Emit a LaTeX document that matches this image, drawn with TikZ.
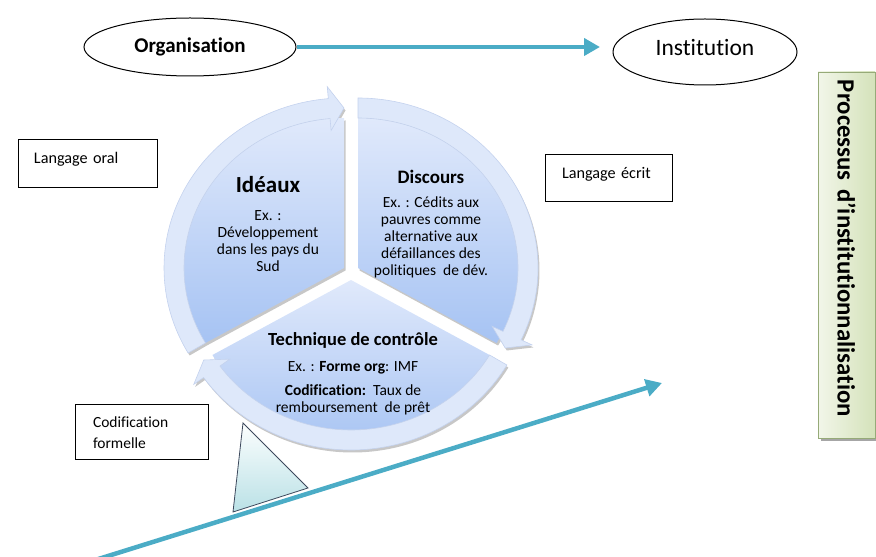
\documentclass[tikz,border=0pt]{standalone}
\usepackage{fontspec}
\setmainfont{Carlito}[Ligatures=NoCommon]
\usetikzlibrary{arrows.meta,shapes.geometric}
\definecolor{teal1}{RGB}{75,172,198}
\definecolor{wedgetop}{RGB}{224,233,251}
\definecolor{wedgebot}{RGB}{166,195,243}
\definecolor{bandcol}{RGB}{222,232,250}
\definecolor{bandedge}{RGB}{196,210,238}
\definecolor{greentop}{RGB}{242,246,233}
\definecolor{greenbot}{RGB}{212,226,186}
\definecolor{greenedge}{RGB}{150,170,120}
\definecolor{tritop}{RGB}{252,254,254}
\definecolor{tribot}{RGB}{186,225,230}
\definecolor{triedge}{RGB}{60,72,92}
\newcommand\wedgeshape[1]{(0,0) -- (#1:160pt and 150pt) arc[start angle=#1, end angle=#1+120, x radius=160pt, y radius=150pt] -- cycle}
\newcommand\bandshape[1]{({#1+120}:160pt and 150pt) -- ({#1+120}:180pt and 170pt) arc[start angle=#1+120, end angle=#1+5, x radius=180pt, y radius=170pt] -- ({#1+5}:192pt and 182pt) -- (#1:170pt and 160pt) -- ({#1+5}:148pt and 138pt) -- ({#1+5}:160pt and 150pt) arc[start angle=#1+5, end angle=#1+120, x radius=160pt, y radius=150pt] -- cycle}
\newcommand\cycseg[3]{%
\begin{scope}[shift={(#1,#2)}]
 \fill[black,opacity=0.22,shift={(1.5pt,-2.5pt)}] \wedgeshape{#3} \bandshape{#3};
 \path[top color=wedgetop,bottom color=wedgebot] \wedgeshape{#3};
 \path[fill=bandcol,draw=bandedge,line width=0.6pt] \bandshape{#3};
\end{scope}}
\tikzset{
 tealarrow/.style={draw=teal1,line width=4.5pt,-{Triangle[length=16pt,width=17pt]}},
 lbox/.style={draw=black,line width=1pt,rectangle,align=left,inner ysep=0pt,font=\fontsize{16.2}{21}\selectfont},
 wtitle/.style={inner sep=0pt,font=\bfseries\fontsize{19}{22}\selectfont},
 wbody/.style={inner sep=0pt,align=center,font=\fontsize{15.5}{17}\selectfont},
}
\begin{document}
\begin{tikzpicture}[x=1pt,y=1pt]
\useasboundingbox (0,0) rectangle (876,557);
% top ellipses
\node[ellipse,draw,line width=1pt,minimum width=212pt,minimum height=58pt,font=\bfseries\fontsize{21}{24}\selectfont] (org) at (190,510) {Organisation};
\node[ellipse,draw,line width=1pt,minimum width=184pt,minimum height=66pt,text depth=10pt,font=\fontsize{23.5}{26}\selectfont] (inst) at (705,505) {Institution};
\coordinate (orgtip) at (600,510);
\draw[tealarrow] (org.east) -- (orgtip);
% diagonal arrow
\coordinate (diagS) at (92,-4);
\coordinate (diagE) at (662,174);
\draw[tealarrow] (diagS) -- (diagE);
% triangle
\draw[draw=triedge,line width=0.8pt,top color=tritop,bottom color=tribot] (243,134) -- (308,69) -- (233,45) -- cycle;
% cycle
\cycseg{344}{289}{90}
\cycseg{358}{289}{-30}
\cycseg{351}{277}{210}
% texts in wedges
\node[wtitle,font=\bfseries\fontsize{23}{26}\selectfont] (idt) at (268,372) {Idéaux};
\node[wbody] (idb) at (268,316) {Ex. :\\Développement\\dans les pays du\\Sud};
\node[wtitle] (dit) at (431,380) {Discours};
\node[wbody] (dib) at (431,320) {Ex. : Cédits aux\\pauvres comme\\alternative aux\\défaillances des\\politiques\ \ de dév.};
\node[wtitle,font=\bfseries\fontsize{18.5}{22}\selectfont] (tct) at (353,217) {Technique de contrôle};
\node[wbody] (tcb1) at (353,189) {Ex. : \textbf{Forme org}: IMF};
\node[wbody] (tcb2) at (353,157.5) {\textbf{Codification:}\ \ Taux de\\remboursement\ \ de prêt};
% boxes
\node[lbox,minimum width=139pt,minimum height=48pt,text width=107pt,inner xsep=16pt,text depth=12pt] (oral) at (87.5,393) {Langage oral};
\node[lbox,minimum width=127pt,minimum height=47pt,text width=93pt,inner xsep=17pt,text depth=11pt] (ecrit) at (608.5,378.5) {Langage écrit};
\node[lbox,minimum width=133pt,minimum height=55pt,text width=97pt,inner xsep=18pt,font=\fontsize{15.5}{21}\selectfont] (codif) at (141.5,124.5) {Codification\\formelle};
% vertical green box
\fill[black!35] (821,116) rectangle (880,482);
\node[rotate=-90,draw=greenedge,line width=0.8pt,left color=greentop,right color=greenbot,minimum width=366pt,minimum height=57pt,text width=350pt,inner xsep=8pt,align=left,font=\bfseries\fontsize{24.8}{28}\selectfont] (proc) at (846.5,302) {Processus d’institutionnalisation};
\end{tikzpicture}
\end{document}
